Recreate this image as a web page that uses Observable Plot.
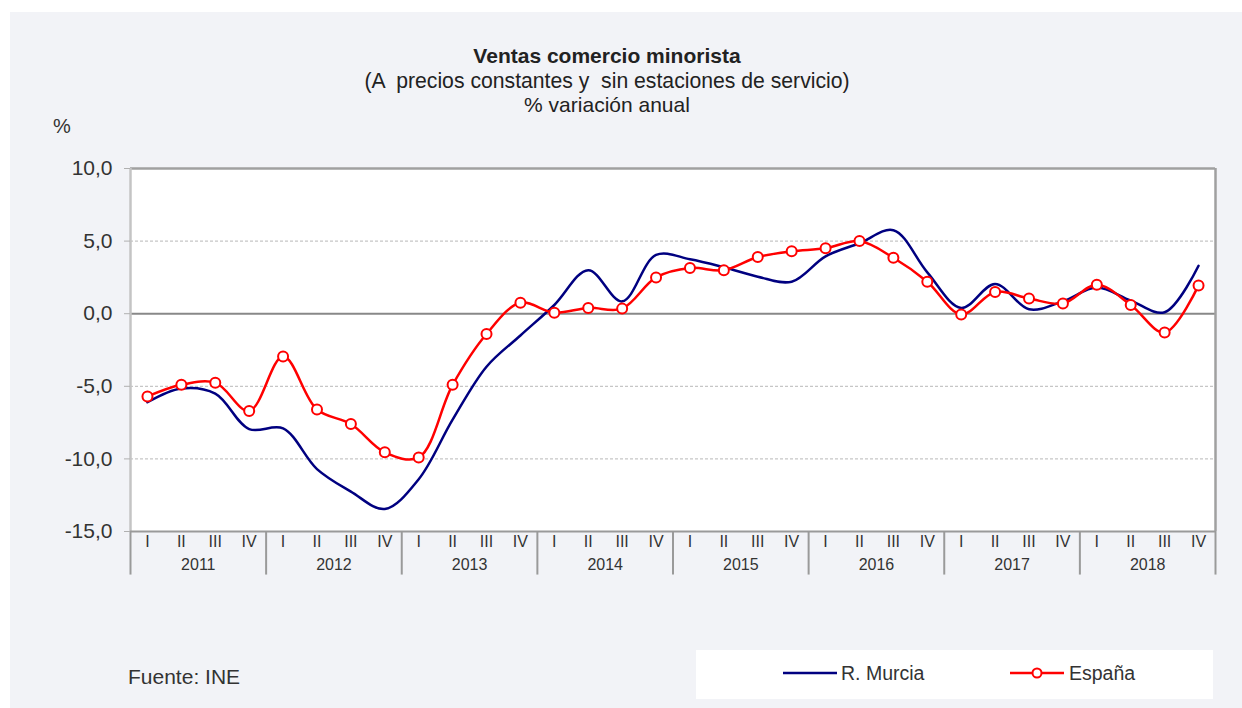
<!DOCTYPE html>
<html>
<head>
<meta charset="utf-8">
<script src="https://cdn.jsdelivr.net/npm/d3@7"></script>
<script src="https://cdn.jsdelivr.net/npm/@observablehq/plot@0.6"></script>
<style>
  html, body { margin: 0; padding: 0; background: #ffffff; width: 1242px; height: 708px; overflow: hidden; }
  body { font-family: "Liberation Sans", Arial, sans-serif; color: #333; position: relative; }
  #panel { position: absolute; left: 10px; top: 12px; width: 1232px; height: 696px; background: #f2f3f7; }
  .t { position: absolute; line-height: 24px; white-space: pre; }
  #chart { position: absolute; left: 0; top: 140px; }
  #legend { position: absolute; left: 696px; top: 650px; width: 517px; height: 49px; background: #fff; }
</style>
</head>
<body>
<div id="panel"></div>
<div class="t" style="left:0;width:1214px;text-align:center;top:44px;font-size:21px;font-weight:bold;color:#222">Ventas comercio minorista</div>
<div class="t" style="left:0;width:1214px;text-align:center;top:69px;font-size:21.2px;color:#222">(A  precios constantes y  sin estaciones de servicio)</div>
<div class="t" style="left:0;width:1214px;text-align:center;top:93px;font-size:21px;color:#222">% variación anual</div>
<div class="t" style="left:53px;top:114px;font-size:20px;">%</div>
<div id="chart"></div>
<div class="t" style="left:128px;top:665px;font-size:21px;">Fuente: INE</div>
<div id="legend"></div>
<script>
const years = ["2011", "2012", "2013", "2014", "2015", "2016", "2017", "2018"];
const quarters = ["I", "II", "III", "IV"];
const seriesNames = ["R. Murcia", "España"];
const murcia = [
  -6.1, -5.15, -5.5, -7.95,
  -7.9, -10.7, -12.25, -13.45,
  -11.4, -7.3, -3.65, -1.5,
  0.6, 3.0, 0.85, 4.05,
  3.75, 3.2, 2.55, 2.2,
  3.95, 4.85, 5.75, 2.85,
  0.4, 2.05, 0.3, 0.85,
  1.8, 0.9, 0.1, 3.3
];
const espana = [
  -5.7, -4.9, -4.75, -6.7,
  -2.95, -6.6, -7.6, -9.55,
  -9.9, -4.9, -1.4, 0.75,
  0.07, 0.4, 0.35, 2.5,
  3.15, 3.0, 3.9, 4.3,
  4.5, 5.0, 3.85, 2.2,
  -0.05, 1.5, 1.05, 0.7,
  2.0, 0.6, -1.3, 1.95
];
const yTicks = [-15, -10, -5, 0, 5, 10];
const yGrid = [-10, -5, 5];

const colors = ["#000080", "#ff0000"];
const rows = murcia.map((v, i) => ({i, murcia: v, espana: espana[i]}));
const qIndex = rows.map(d => d.i);
const yearRows = years.map((y, k) => ({year: y, k}));
const fmt = d => d.toFixed(1).replace(".", ",");

const plot = Plot.plot({
  width: 1242,
  height: 450,
  marginLeft: 130,
  marginRight: 27,
  marginTop: 28,
  marginBottom: 59,
  style: {background: "transparent", fontFamily: "Liberation Sans, Arial, sans-serif", color: "#333", overflow: "visible"},
  x: {type: "linear", domain: [-0.5, murcia.length - 0.5]},
  y: {domain: [-15, 10]},
  marks: [
    Plot.frame({fill: "white", stroke: "none"}),
    Plot.ruleY(yGrid, {stroke: "#b8b8b8", strokeWidth: 1, strokeDasharray: "3,2"}),
    Plot.ruleY([0], {stroke: "#888", strokeWidth: 2}),
    Plot.ruleY([10], {stroke: "#a0a0a0", strokeWidth: 2.5}),
    Plot.ruleX([murcia.length - 0.5], {y1: -15, y2: 10, stroke: "#a0a0a0", strokeWidth: 2.5}),
    Plot.ruleX([-0.5], {y1: -15, y2: 10, stroke: "#c4c4c4", strokeWidth: 2.5}),
    Plot.ruleY([-15], {stroke: "#9a9a9a", strokeWidth: 2}),
    Plot.ruleX(yearRows, {x: d => d.k * 4 - 0.5, y1: -15, y2: -18, stroke: "#9a9a9a", strokeWidth: 2}),
    Plot.ruleX([murcia.length - 0.5], {y1: -15, y2: -18, stroke: "#9a9a9a", strokeWidth: 2}),
    Plot.axisY({ticks: yTicks, tickFormat: fmt, tickSize: 6, tickPadding: 12, fontSize: 21, stroke: "#b0b0b0", label: null}),
    Plot.axisX({ticks: qIndex, tickFormat: i => quarters[i % 4], tickSize: 0, tickPadding: 4, fontSize: 16, label: null}),
    Plot.text(yearRows, {x: d => d.k * 4 + 1.5, y: -15, dy: 33, text: "year", fontSize: 16, fill: "#333"}),
    Plot.line(rows, {x: "i", y: "murcia", curve: "catmull-rom", stroke: colors[0], strokeWidth: 2.5}),
    Plot.line(rows, {x: "i", y: "espana", curve: "catmull-rom", stroke: colors[1], strokeWidth: 2.5}),
    Plot.dot(rows, {x: "i", y: "espana", r: 5, fill: "white", stroke: colors[1], strokeWidth: 2})
  ]
});
document.getElementById("chart").appendChild(plot);

// legend
const leg = d3.select("#legend").append("svg").attr("width", 517).attr("height", 49)
  .style("font-family", "Liberation Sans, Arial, sans-serif");
const items = [{x0: 87, tx: 145}, {x0: 314, tx: 373}];
seriesNames.forEach((name, k) => {
  const g = leg.append("g");
  g.append("line").attr("x1", items[k].x0).attr("x2", items[k].x0 + 54).attr("y1", 23).attr("y2", 23)
    .attr("stroke", colors[k]).attr("stroke-width", 2.5);
  if (k === 1) {
    g.append("circle").attr("cx", items[k].x0 + 27).attr("cy", 23).attr("r", 4.5)
      .attr("fill", "white").attr("stroke", colors[k]).attr("stroke-width", 2);
  }
  g.append("text").attr("x", items[k].tx).attr("y", 23).attr("dy", "0.35em")
    .attr("font-size", 19.5).attr("fill", "#333").text(name);
});
</script>
</body>
</html>
